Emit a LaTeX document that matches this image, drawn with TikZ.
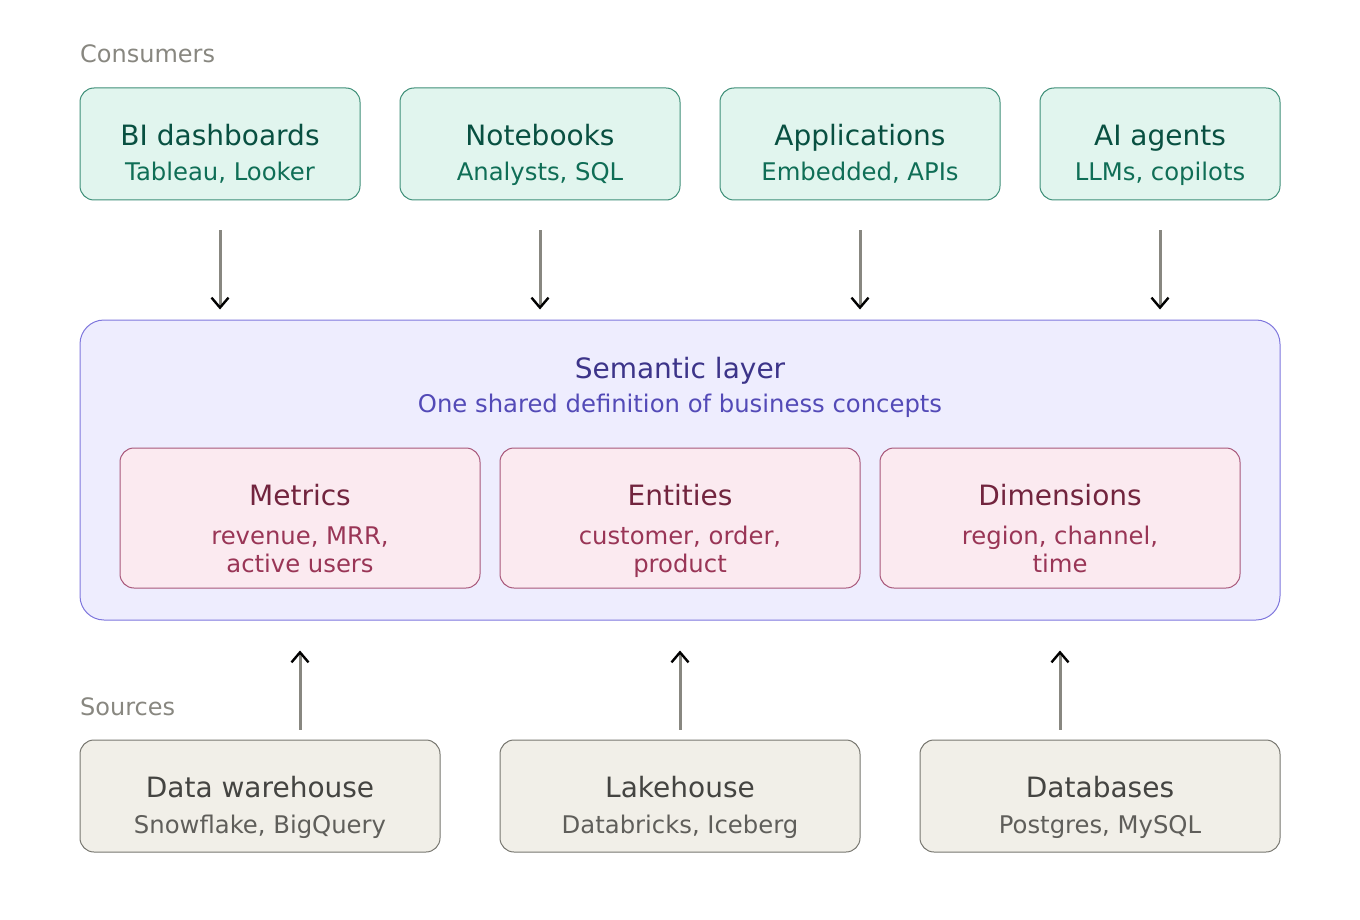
\documentclass[tikz,border=0pt]{standalone}
\usepackage{fontspec}
\setmainfont{DejaVu Sans}
\usepackage{xcolor}
\usetikzlibrary{arrows.meta}

\definecolor{conFill}{HTML}{E1F5EE}
\definecolor{conLine}{HTML}{3E8F78}
\definecolor{conHead}{HTML}{085041}
\definecolor{conText}{HTML}{0F6E56}
\definecolor{semFill}{HTML}{EEEDFE}
\definecolor{semLine}{HTML}{7F77DD}
\definecolor{semHead}{HTML}{3C3489}
\definecolor{semText}{HTML}{534AB7}
\definecolor{defFill}{HTML}{FBEAF0}
\definecolor{defLine}{HTML}{A8577A}
\definecolor{defHead}{HTML}{72243E}
\definecolor{defText}{HTML}{993556}
\definecolor{srcFill}{HTML}{F1EFE8}
\definecolor{srcLine}{HTML}{77766F}
\definecolor{srcHead}{HTML}{444441}
\definecolor{srcText}{HTML}{5F5E5A}
\definecolor{tierGray}{HTML}{888780}

\tikzset{
  box/.style={draw, line width=1pt, rounded corners=14pt, inner sep=0pt},
  conbox/.style={box, fill=conFill, draw=conLine, minimum width=280pt, minimum height=112pt},
  defbox/.style={box, fill=defFill, draw=defLine, minimum width=360pt, minimum height=140pt},
  srcbox/.style={box, fill=srcFill, draw=srcLine, minimum width=360pt, minimum height=112pt},
  head/.style={anchor=base, inner sep=0pt, font=\fontsize{28}{34}\selectfont},
  sub/.style={anchor=base, inner sep=0pt, font=\fontsize{24.3}{28}\selectfont},
  tier/.style={anchor=base west, inner sep=0pt, text=tierGray, font=\fontsize{24}{28}\selectfont},
  flow/.style={draw=tierGray, line width=3pt, -{Straight Barb[black, line width=2.4pt, length=10pt, width=17pt]}}
}

\begin{document}
\begin{tikzpicture}[x=1pt, y=-1pt]
\useasboundingbox (0,0) rectangle (1360,920);

% Consumers
\node[tier] (conLbl) at (80,63) {Consumers};
\node[conbox] (bi) at (220,144) {};
\node[conbox] (nb) at (540,144) {};
\node[conbox] (app) at (860,144) {};
\node[conbox, minimum width=240pt] (ai) at (1160,144) {};
\node[head, text=conHead] (biT) at (220,146) {BI dashboards};
\node[sub, text=conText] (biS) at (220,181) {Tableau, Looker};
\node[head, text=conHead] (nbT) at (540,146) {Notebooks};
\node[sub, text=conText] (nbS) at (540,181) {Analysts, SQL};
\node[head, text=conHead] (appT) at (860,146) {Applications};
\node[sub, text=conText] (appS) at (860,181) {Embedded, APIs};
\node[head, text=conHead] (aiT) at (1160,146) {AI agents};
\node[sub, text=conText] (aiS) at (1160,181) {LLMs, copilots};

% Semantic layer
\node[box, rounded corners=24pt, fill=semFill, draw=semLine, minimum width=1200pt, minimum height=300pt] (sem) at (680,470) {};
\node[head, text=semHead] (semT) at (680,378) {Semantic layer};
\node[sub, text=semText] (semS) at (680,412) {One shared definition of business concepts};

\node[defbox] (met) at (300,518) {};
\node[defbox] (ent) at (680,518) {};
\node[defbox] (dim) at (1060,518) {};
\node[head, text=defHead] (metT) at (300,505) {Metrics};
\node[sub, text=defText] (metA) at (300,544) {revenue, MRR,};
\node[sub, text=defText] (metB) at (300,572) {active users};
\node[head, text=defHead] (entT) at (680,505) {Entities};
\node[sub, text=defText] (entA) at (680,544) {customer, order,};
\node[sub, text=defText] (entB) at (680,572) {product};
\node[head, text=defHead] (dimT) at (1060,505) {Dimensions};
\node[sub, text=defText] (dimA) at (1060,544) {region, channel,};
\node[sub, text=defText] (dimB) at (1060,572) {time};

% Sources
\node[tier] (srcLbl) at (80,715) {Sources};
\node[srcbox] (dw) at (260,796) {};
\node[srcbox] (lh) at (680,796) {};
\node[srcbox] (db) at (1100,796) {};
\node[head, text=srcHead] (dwT) at (260,797) {Data warehouse};
\node[sub, text=srcText] (dwS) at (260,833) {Snowflake, BigQuery};
\node[head, text=srcHead] (lhT) at (680,797) {Lakehouse};
\node[sub, text=srcText] (lhS) at (680,833) {Databricks, Iceberg};
\node[head, text=srcHead] (dbT) at (1100,797) {Databases};
\node[sub, text=srcText] (dbS) at (1100,833) {Postgres, MySQL};

% Arrows into the layer
\foreach \c in {bi, nb, app, ai}
  \draw[flow, shorten >=10pt] ([yshift=-30pt]\c.south) -- (\c.south |- sem.north);
\draw[flow, shorten >=30pt] ([yshift=10pt]met.south |- dw.north) -- (met.south |- sem.south);
\draw[flow, shorten >=30pt] ([yshift=10pt]ent.south |- lh.north) -- (ent.south |- sem.south);
\draw[flow, shorten >=30pt] ([yshift=10pt]dim.south |- db.north) -- (dim.south |- sem.south);

\end{tikzpicture}
\end{document}
